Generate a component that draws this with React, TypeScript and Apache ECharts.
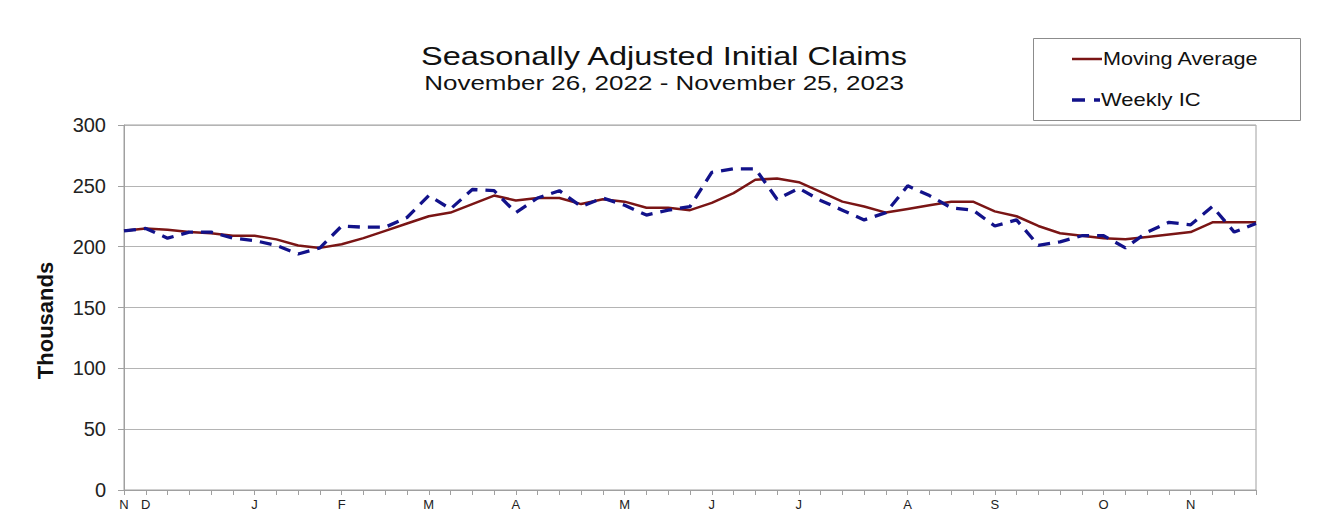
import { useEffect, useRef } from "react";
import * as echarts from "echarts";

const TITLE = "Seasonally Adjusted Initial Claims";
const SUBTITLE = "November 26, 2022 - November 25, 2023";
const Y_NAME = "Thousands";
const LEGEND_MA = "Moving Average";
const LEGEND_IC = "Weekly IC";

// 4-week moving average (thousands), week ending Nov 26 2022 ... Nov 25 2023
const movingAverage = [
  213, 215, 214, 212, 211, 209, 209, 206, 201, 199, 202, 207, 213, 219, 225, 228,
  235, 242, 238, 240, 240, 235, 239, 237, 232, 232, 230, 236, 244, 255, 256, 253,
  245, 237, 233, 228, 231, 234, 237, 237, 229, 225, 217, 211, 209, 207, 206, 208,
  210, 212, 220, 220, 220,
];

// Weekly initial claims (thousands)
const weeklyIC = [
  213, 215, 207, 212, 212, 207, 205, 201, 194, 199, 217, 216, 216, 224, 242, 231,
  247, 246, 228, 240, 246, 233, 240, 234, 226, 230, 233, 261, 264, 264, 239, 248,
  238, 230, 222, 228, 250, 242, 232, 230, 217, 222, 201, 204, 209, 209, 199, 212,
  220, 218, 233, 212, 219,
];

const MONTH_INITIALS = ["J", "F", "M", "A", "M", "J", "J", "A", "S", "O", "N", "D"];
const FIRST_WEEK_UTC = Date.UTC(2022, 10, 26);
const weekDates = movingAverage.map((_, i) =>
  new Date(FIRST_WEEK_UTC + i * 7 * 86400000).toISOString().slice(0, 10)
);

const Y_MIN = 0;
const Y_MAX = 300;
const Y_STEP = 50;

const FONT = '"Liberation Sans", Arial, Helvetica, sans-serif';
const MA_COLOR = "#7a1515";
const IC_COLOR = "#12128a";

export default function App() {
  const ref = useRef<HTMLDivElement>(null);

  useEffect(() => {
    document.body.style.margin = "0";
    const chart = echarts.init(ref.current!, null, { renderer: "svg" });
    chart.setOption({
      animation: false,
      backgroundColor: "#ffffff",
      grid: {
        left: 124,
        right: 88,
        top: 125,
        bottom: 36,
        show: true,
        borderColor: "#a0a0a0",
        borderWidth: 1,
        containLabel: false,
      },
      xAxis: {
        type: "category",
        data: weekDates,
        boundaryGap: false,
        axisLine: { lineStyle: { color: "#a0a0a0", width: 1 } },
        axisTick: { show: true, interval: 0, length: 5, lineStyle: { color: "#a0a0a0" } },
        axisLabel: {
          interval: 0,
          hideOverlap: false,
          margin: 8,
          fontFamily: FONT,
          fontSize: 13,
          color: "#222",
          formatter: (value: string, index: number) => {
            const d = new Date(value + "T00:00:00Z");
            if (index === 0 || d.getUTCDate() <= 7) return MONTH_INITIALS[d.getUTCMonth()];
            return "";
          },
        },
        splitLine: { show: false },
      },
      yAxis: {
        type: "value",
        min: Y_MIN,
        max: Y_MAX,
        interval: Y_STEP,
        name: Y_NAME,
        nameLocation: "middle",
        nameRotate: 90,
        nameGap: 68,
        nameTextStyle: {
          fontFamily: FONT,
          fontSize: 22,
          fontWeight: "bold",
          color: "#111",
          padding: [0, 26, 0, 0],
        },
        axisLine: { show: true, lineStyle: { color: "#a0a0a0", width: 1 } },
        axisTick: { show: true, length: 6, lineStyle: { color: "#a0a0a0" } },
        axisLabel: { margin: 18, fontFamily: FONT, fontSize: 20, color: "#222" },
        splitLine: { show: true, lineStyle: { color: "#b4b4b4", width: 1 } },
      },
      series: [
        {
          name: LEGEND_MA,
          type: "line",
          data: movingAverage,
          symbol: "none",
          lineStyle: { color: MA_COLOR, width: 2.5 },
          z: 2,
        },
        {
          name: LEGEND_IC,
          type: "line",
          data: weeklyIC,
          symbol: "none",
          lineStyle: { color: IC_COLOR, width: 3.3, type: [12, 8] },
          z: 3,
        },
      ],
      graphic: [
        {
          type: "text",
          x: 664,
          y: 56,
          scaleX: 1.3,
          style: {
            text: TITLE,
            fontFamily: FONT,
            fontSize: 25,
            fill: "#111",
            align: "center",
            verticalAlign: "middle",
          },
        },
        {
          type: "text",
          x: 664,
          y: 83,
          scaleX: 1.3,
          style: {
            text: SUBTITLE,
            fontFamily: FONT,
            fontSize: 20,
            fill: "#111",
            align: "center",
            verticalAlign: "middle",
          },
        },
        {
          type: "rect",
          shape: { x: 1033.5, y: 38.5, width: 267, height: 82 },
          style: { fill: "#ffffff", stroke: "#8c8c8c", lineWidth: 1 },
          z: 10,
        },
        {
          type: "line",
          shape: { x1: 1072, y1: 59, x2: 1102, y2: 59 },
          style: { stroke: MA_COLOR, lineWidth: 2.5 },
          z: 11,
        },
        {
          type: "text",
          x: 1103,
          y: 59,
          scaleX: 1.2,
          style: {
            text: LEGEND_MA,
            fontFamily: FONT,
            fontSize: 18,
            fill: "#111",
            align: "left",
            verticalAlign: "middle",
          },
          z: 11,
        },
        {
          type: "polyline",
          shape: { points: [[1072, 100], [1100, 100]] },
          style: { stroke: IC_COLOR, lineWidth: 3.3, lineDash: [13, 9] },
          z: 11,
        },
        {
          type: "text",
          x: 1101,
          y: 100,
          scaleX: 1.22,
          style: {
            text: LEGEND_IC,
            fontFamily: FONT,
            fontSize: 18,
            fill: "#111",
            align: "left",
            verticalAlign: "middle",
          },
          z: 11,
        },
      ],
    });
    return () => chart.dispose();
  }, []);

  return <div ref={ref} style={{ width: 1344, height: 526 }} />;
}
